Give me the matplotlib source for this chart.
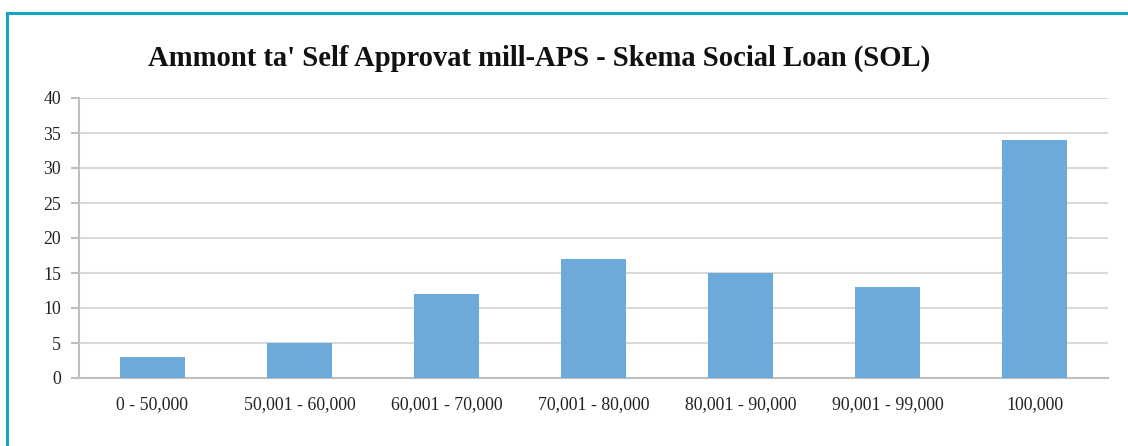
import matplotlib.pyplot as plt
from matplotlib.patches import Rectangle

# categories and counts
categories = ['0 - 50,000', '50,001 - 60,000', '60,001 - 70,000', '70,001 - 80,000',
              '80,001 - 90,000', '90,001 - 99,000', '100,000']
values = [3, 5, 12, 17, 15, 13, 34]
yticks = [0, 5, 10, 15, 20, 25, 30, 35, 40]

plt.rcParams['font.family'] = ['Liberation Serif', 'DejaVu Serif']

fig = plt.figure(figsize=(11.28, 4.46), dpi=100)
ax = fig.add_axes([79 / 1128, 1 - 378 / 446, (1108 - 79) / 1128, (378 - 98) / 446])

ax.bar(range(len(categories)), values, width=0.44, color='#6daadc', zorder=3)
ax.set_xlim(-0.5, len(categories) - 0.5)
ax.set_ylim(0, 40)
ax.set_yticks(yticks)
ax.set_xticks(range(len(categories)))
ax.set_xticklabels(categories, fontsize=12.8, color='#222222')
ax.tick_params(axis='y', labelsize=12.8, labelcolor='#222222', direction='out',
               length=6, color='#bfbfbf', width=1.5, pad=7)
ax.tick_params(axis='x', length=0, pad=13)
ax.grid(axis='y', color='#d9d9d9', linewidth=1.5, zorder=0)

for s in ['top', 'right']:
    ax.spines[s].set_visible(False)
for s in ['left', 'bottom']:
    ax.spines[s].set_color('#bfbfbf')
    ax.spines[s].set_linewidth(1.5)

fig.text(0.478, 1 - 58 / 446, "Ammont ta' Self Approvat mill-APS - Skema Social Loan (SOL)",
         ha='center', va='center', fontsize=20.6, fontweight='bold', color='#111111')

# teal frame around the chart (runs off the right and bottom edges)
fig.patches.append(Rectangle((7 / 1128, -0.1), 1.2, 1 - 13 / 446 + 0.1,
                             transform=fig.transFigure, fill=False,
                             edgecolor='#12a5c4', linewidth=2.2, clip_on=False))

fig.savefig('out.png', dpi=100)
